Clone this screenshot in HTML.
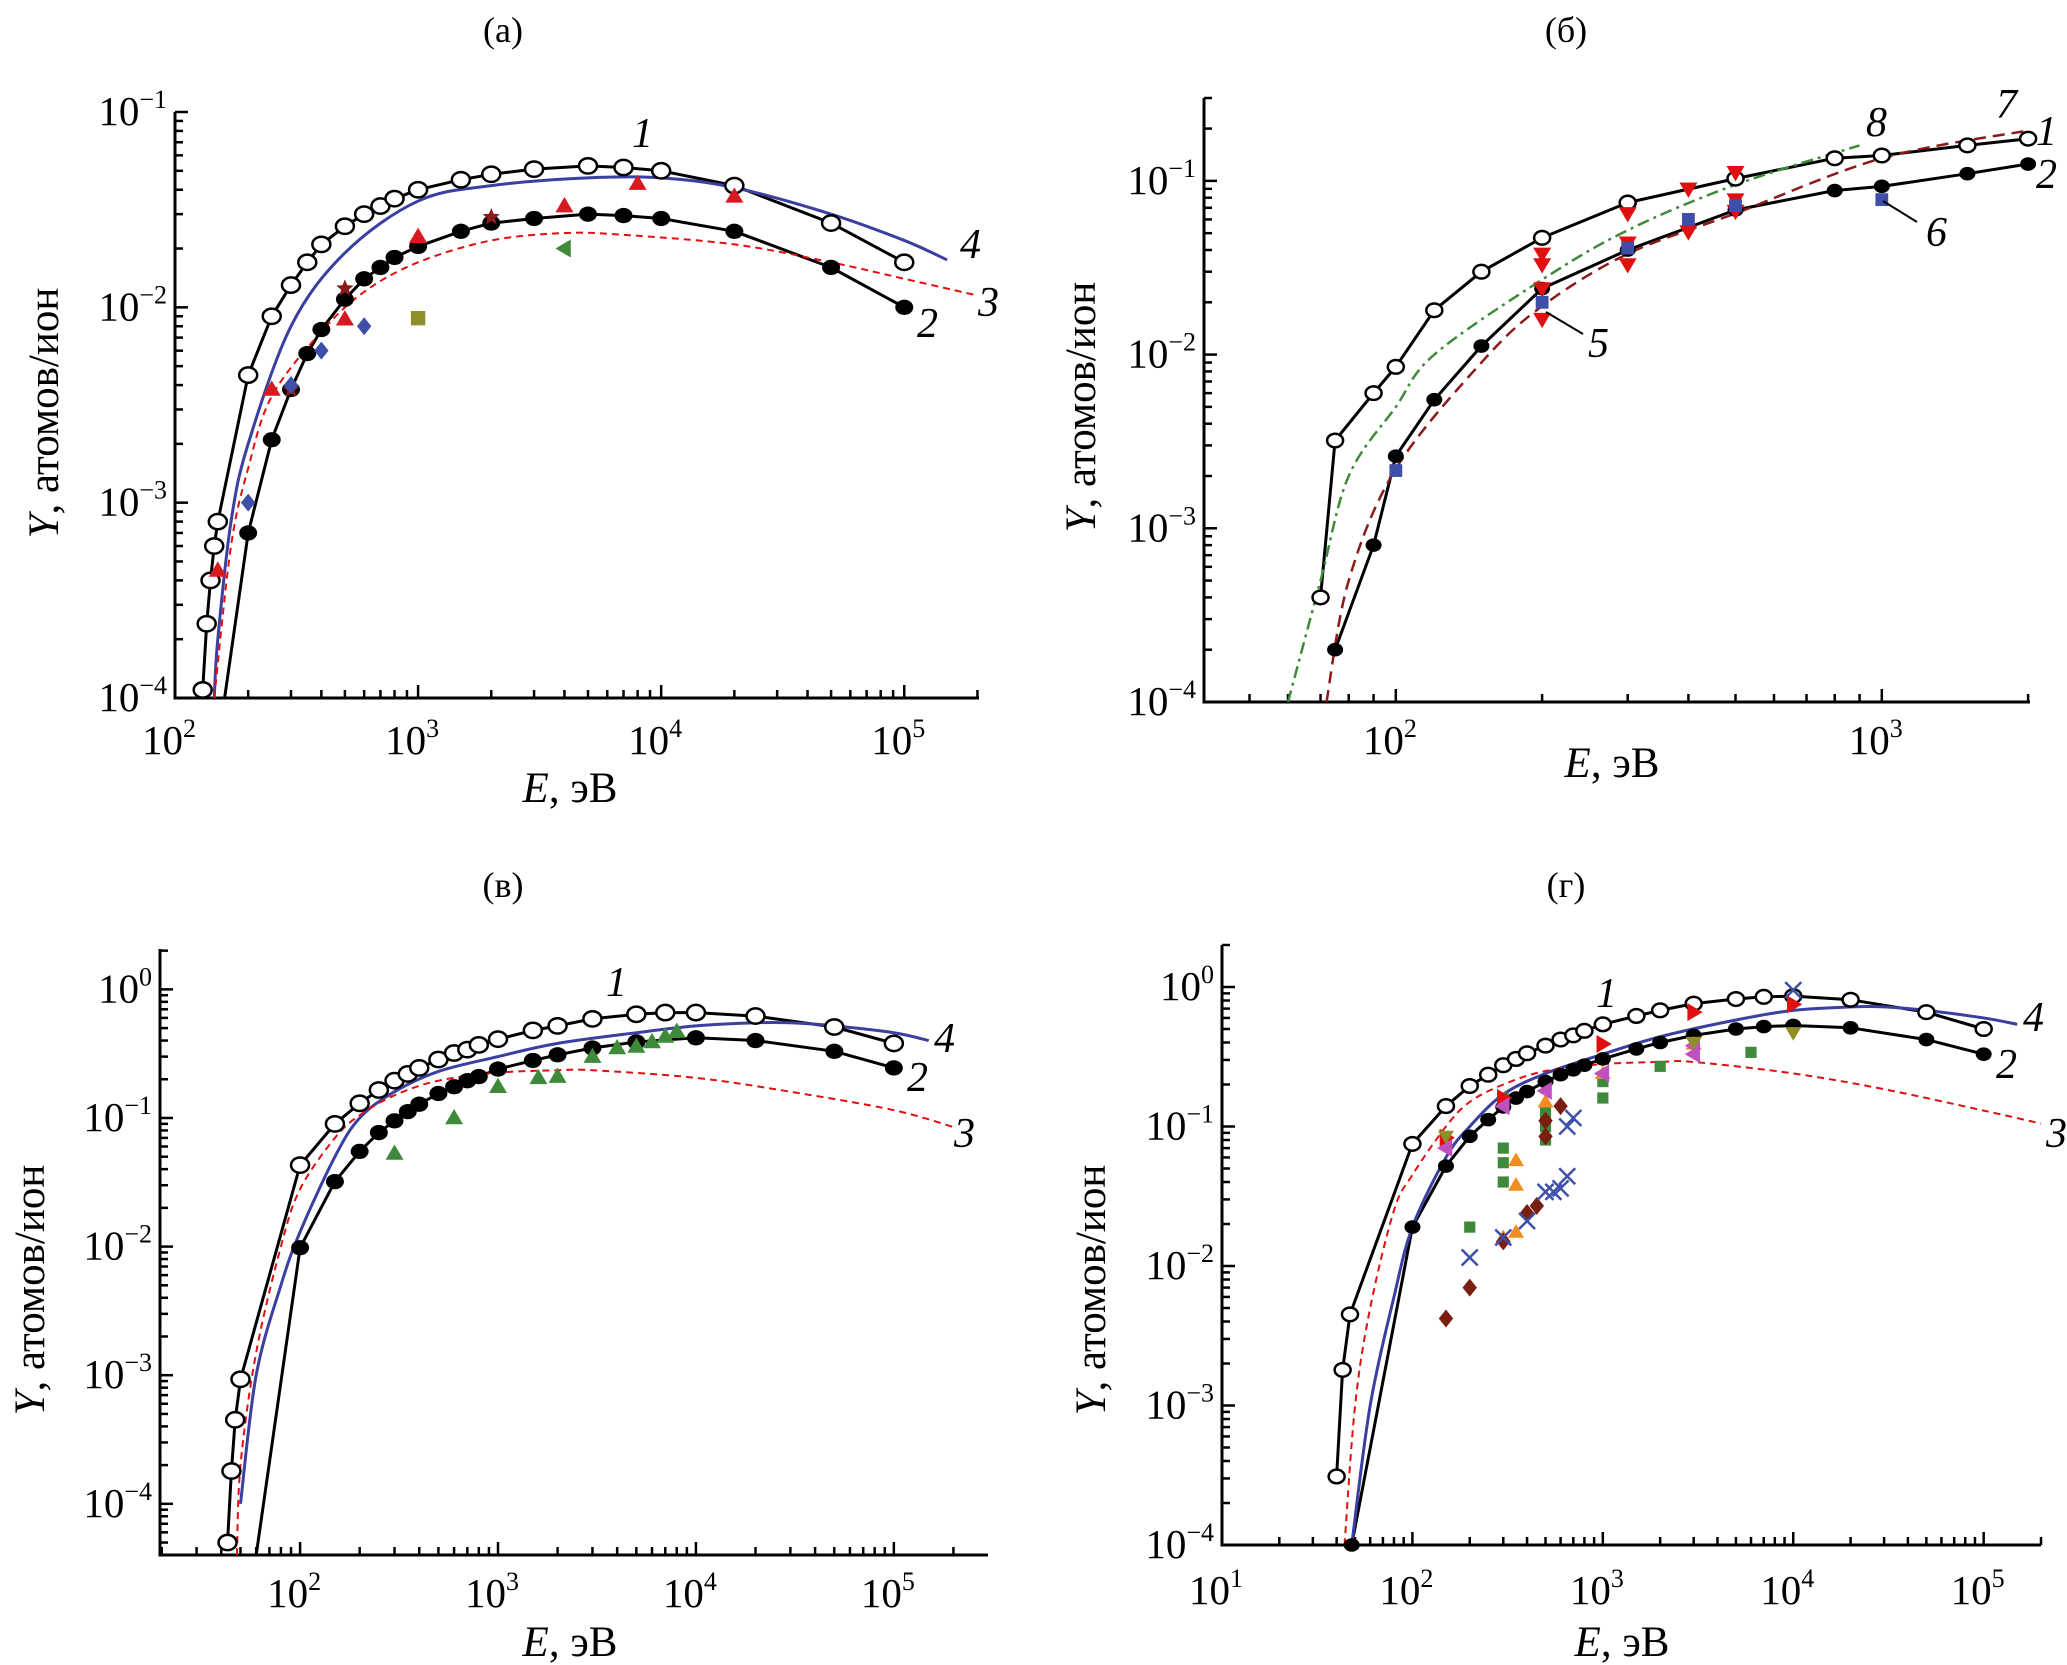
<!DOCTYPE html>
<html><head><meta charset="utf-8"><style>
html,body{margin:0;padding:0;background:#fff}
svg{display:block;font-family:"Liberation Serif","DejaVu Serif",serif}
</style></head><body>
<svg id="fig" width="2067" height="1665" viewBox="0 0 2067 1665" xmlns="http://www.w3.org/2000/svg"></svg>
<script>
// ===== Panel (a) data =====
const aE1=[130,135,140,145,150,200,250,300,350,400,500,600,700,800,1000,1500,2000,3000,5000,7000,10000,20000,50000,100000];
const aY1=[1.1e-4,2.4e-4,4e-4,6e-4,8e-4,4.5e-3,9e-3,1.3e-2,1.7e-2,2.1e-2,2.6e-2,3.0e-2,3.3e-2,3.6e-2,4.0e-2,4.5e-2,4.8e-2,5.1e-2,5.3e-2,5.2e-2,5.0e-2,4.2e-2,2.7e-2,1.7e-2];
const aE2=[160,200,250,300,350,400,500,600,700,800,1000,1500,2000,3000,5000,7000,10000,20000,50000,100000];
const aY2=[1e-4,7e-4,2.1e-3,3.8e-3,5.8e-3,7.7e-3,1.1e-2,1.4e-2,1.6e-2,1.8e-2,2.05e-2,2.45e-2,2.7e-2,2.85e-2,3.0e-2,2.95e-2,2.85e-2,2.45e-2,1.6e-2,1.0e-2];
const aE4=[145,150,170,200,300,500,1000,2000,5000,10000,20000,50000,100000,150000];
const aY4=[1e-4,2e-4,8e-4,2e-3,8e-3,1.9e-2,3.5e-2,4.2e-2,4.6e-2,4.6e-2,4.1e-2,3.0e-2,2.2e-2,1.75e-2];
const aE3=[145,170,200,250,400,600,1000,2000,4000,7000,20000,50000,100000,200000];
const aY3=[1e-4,6e-4,1.5e-3,3.5e-3,7.5e-3,1.2e-2,1.7e-2,2.2e-2,2.4e-2,2.35e-2,2.1e-2,1.7e-2,1.4e-2,1.15e-2];
const aTriE=[150,250,500,1000,4000,8000,20000], aTriY=[4.5e-4,3.8e-3,8.7e-3,2.3e-2,3.3e-2,4.3e-2,3.7e-2];
const aStarE=[500,2000,300], aStarY=[1.25e-2,2.9e-2,3.8e-3];
const aDiaE=[200,300,400,600], aDiaY=[1e-3,4e-3,6e-3,8e-3];
const aSqE=[1000], aSqY=[8.8e-3];
const aLtE=[4000], aLtY=[2e-2];
// ===== Panel (б) data =====
const bE1=[70,75,90,100,120,150,200,300,500,800,1000,1500,2000];
const bY1=[4e-4,3.2e-3,6e-3,8.5e-3,1.8e-2,3.0e-2,4.7e-2,7.5e-2,1.03e-1,1.35e-1,1.4e-1,1.6e-1,1.75e-1];
const bE2=[75,90,100,120,150,200,300,500,800,1000,1500,2000];
const bY2=[2e-4,8e-4,2.6e-3,5.5e-3,1.12e-2,2.4e-2,4e-2,6.8e-2,8.8e-2,9.3e-2,1.1e-1,1.25e-1];
const bE7=[72,80,100,150,200,300,500,1000,2000];
const bY7=[1e-4,5e-4,2.2e-3,9e-3,1.9e-2,3.8e-2,6.5e-2,1.35e-1,1.95e-1];
const bE8=[60,70,80,100,120,200,300,500,900];
const bY8=[1e-4,5e-4,2e-3,5e-3,1e-2,2.7e-2,5.2e-2,9.5e-2,1.6e-1];
const bDnE=[200,200,200,200,300,300,300,400,400,500,500,500];
const bDnY=[3.8e-2,3.3e-2,2.4e-2,1.6e-2,6.5e-2,4.4e-2,3.3e-2,9e-2,5.1e-2,1.12e-1,7.8e-2,6.7e-2];
const bSqE=[100,200,300,400,500,1000], bSqY=[2.15e-3,2e-2,4.1e-2,6e-2,7.2e-2,7.8e-2];
// ===== Panel (в) data =====
const cE1=[43,45,47,50,100,150,200,250,300,350,400,500,600,700,800,1000,1500,2000,3000,5000,7000,10000,20000,50000,100000];
const cY1=[5e-5,1.8e-4,4.5e-4,9.3e-4,4.3e-2,9e-2,1.3e-1,1.65e-1,1.95e-1,2.2e-1,2.45e-1,2.85e-1,3.2e-1,3.4e-1,3.7e-1,4.1e-1,4.8e-1,5.2e-1,5.9e-1,6.4e-1,6.6e-1,6.6e-1,6.2e-1,5.1e-1,3.8e-1];
const cE2=[60,100,150,200,250,300,350,400,500,600,700,800,1000,1500,2000,3000,5000,10000,20000,50000,100000];
const cY2=[4e-5,9.8e-3,3.2e-2,5.5e-2,7.7e-2,9.5e-2,1.12e-1,1.28e-1,1.55e-1,1.75e-1,1.95e-1,2.1e-1,2.4e-1,2.8e-1,3.1e-1,3.5e-1,3.9e-1,4.2e-1,4e-1,3.3e-1,2.45e-1];
const cE4=[50,60,80,100,150,200,300,500,1000,2000,5000,10000,20000,30000,50000,100000,150000];
const cY4=[1e-4,1e-3,5e-3,1.3e-2,5e-2,1e-1,1.6e-1,2.3e-1,3e-1,3.8e-1,4.6e-1,5.2e-1,5.5e-1,5.5e-1,5.2e-1,4.6e-1,4e-1];
const cE3=[48,50,60,80,100,150,200,300,500,1000,2000,3000,10000,30000,100000,200000];
const cY3=[4e-5,2e-4,1.5e-3,1e-2,2.8e-2,7e-2,1.05e-1,1.5e-1,1.95e-1,2.25e-1,2.35e-1,2.35e-1,2.05e-1,1.6e-1,1.15e-1,8.5e-2];
const cTriE=[300,600,1000,1600,2000,3000,4000,5000,6000,7000,8000];
const cTriY=[5.3e-2,1e-1,1.75e-1,2.05e-1,2.1e-1,3e-1,3.5e-1,3.6e-1,3.9e-1,4.3e-1,4.7e-1];
// ===== Panel (г) data =====
const dE1=[40,43,47,100,150,200,250,300,350,400,500,600,700,800,1000,1500,2000,3000,5000,7000,10000,20000,50000,100000];
const dY1=[3.1e-4,1.8e-3,4.5e-3,7.5e-2,1.4e-1,1.95e-1,2.35e-1,2.75e-1,3.05e-1,3.35e-1,3.8e-1,4.2e-1,4.5e-1,4.85e-1,5.4e-1,6.2e-1,6.8e-1,7.6e-1,8.2e-1,8.5e-1,8.6e-1,8.1e-1,6.6e-1,5e-1];
const dE2=[48,100,150,200,250,300,350,400,500,600,700,800,1000,1500,2000,3000,5000,7000,10000,20000,50000,100000];
const dY2=[1e-4,1.9e-2,5.2e-2,8.5e-2,1.12e-1,1.38e-1,1.6e-1,1.78e-1,2.1e-1,2.35e-1,2.55e-1,2.75e-1,3.05e-1,3.6e-1,4e-1,4.5e-1,5e-1,5.2e-1,5.3e-1,5.1e-1,4.2e-1,3.3e-1];
const dE4=[48,60,80,100,150,200,300,500,1000,2000,5000,10000,20000,30000,50000,100000,150000];
const dY4=[1e-4,1e-3,6e-3,1.9e-2,6e-2,1e-1,1.7e-1,2.4e-1,3.3e-1,4.4e-1,5.8e-1,6.8e-1,7.2e-1,7.2e-1,6.8e-1,6e-1,5.4e-1];
const dE3=[44,50,60,80,100,150,200,300,500,1000,2000,3000,10000,30000,100000,200000];
const dY3=[1e-4,1e-3,5e-3,2.5e-2,4.5e-2,1e-1,1.5e-1,2e-1,2.5e-1,2.8e-1,2.9e-1,2.9e-1,2.4e-1,1.85e-1,1.3e-1,1.05e-1];
const dRtE=[150,300,1000,3000,10000], dRtY=[8.3e-2,1.6e-1,3.9e-1,6.6e-1,7.5e-1];
const dLtE=[150,300,500,1000,3000,3000], dLtY=[7e-2,1.4e-1,1.8e-1,2.4e-1,3.3e-1,3.8e-1];
const dSqE=[200,300,300,300,300,500,500,500,1000,1000,2000,6000];
const dSqY=[1.9e-2,7e-2,5.5e-2,4e-2,1.6e-1,1.25e-1,1e-1,8e-2,2.1e-1,1.6e-1,2.7e-1,3.4e-1];
const dOrE=[300,350,350,350,500,1000,3000], dOrY=[1.6e-2,5.7e-2,3.8e-2,1.75e-2,1.5e-1,2.4e-1,3.9e-1];
const dDiaE=[150,200,300,400,450,500,500,600], dDiaY=[4.2e-3,7e-3,1.5e-2,2.4e-2,2.7e-2,8.5e-2,1.1e-1,1.4e-1];
const dXE=[200,300,400,500,550,600,650,650,700,10000], dXY=[1.15e-2,1.6e-2,2.1e-2,3.4e-2,3.4e-2,3.6e-2,4.4e-2,1e-1,1.15e-1,9.5e-1];
const dOlE=[3000,10000,150], dOlY=[4e-1,4.7e-1,8.5e-2];

const NS='http://www.w3.org/2000/svg';
const svg=document.getElementById('fig');
function mk(tag,attrs,parent){const e=document.createElementNS(NS,tag);for(const k in attrs)e.setAttribute(k,attrs[k]);(parent||svg).appendChild(e);return e;}
function L(v){return Math.log10(v);}

function makePanel(p){
  const g=mk('g',{});
  
  
  p.sx=v=>p.x0+(L(v)-L(p.xmin))/(L(p.xmax)-L(p.xmin))*(p.x1-p.x0);
  p.sy=v=>p.y1-(L(v)-L(p.ymin))/(L(p.ymax)-L(p.ymin))*(p.y1-p.y0);
  const clip=mk('clipPath',{id:'clip-'+p.name},g);
  mk('rect',{x:p.x0,y:p.y0-20,width:p.x1-p.x0+30,height:p.y1-p.y0+20},clip);
  p.g=g;
  const ya=mk('line',{x1:p.x0,y1:p.y0,x2:p.x0,y2:p.y1,stroke:'#000','stroke-width':3},g);
  
  
  const xa=mk('line',{x1:p.x0-1.5,y1:p.y1,x2:p.x1,y2:p.y1,stroke:'#000','stroke-width':3},g);
  
  
  for(let d=Math.floor(L(p.xmin));d<=Math.ceil(L(p.xmax));d++){
    for(let m=1;m<10;m++){const v=m*Math.pow(10,d);if(v<p.xmin*0.999||v>p.xmax*1.001)continue;
      const x=p.sx(v);mk('line',{x1:x,y1:p.y1,x2:x,y2:p.y1-(m===1?13:8),stroke:'#000','stroke-width':2.5},g);
      if(m===1&&p.xlabs.includes(d)){const t=mk('text',{x:x-6,y:p.xly,'font-size':41,'text-anchor':'middle'},g);
        
        
        t.textContent='10';const s=mk('tspan',{dy:-17,'font-size':26},t);s.textContent=String(d);}}
  }
  for(let d=Math.floor(L(p.ymin));d<=Math.ceil(L(p.ymax));d++){
    for(let m=1;m<10;m++){const v=m*Math.pow(10,d);if(v<p.ymin*0.999||v>p.ymax*1.001)continue;
      const y=p.sy(v);mk('line',{x1:p.x0,y1:y,x2:p.x0+(m===1?13:8),y2:y,stroke:'#000','stroke-width':2.5},g);
      if(m===1){const t=mk('text',{x:p.x0-8,y:y+13,'font-size':41,'text-anchor':'end'},g);
        
        
        const a=mk('tspan',{},t);a.textContent='10';const s=mk('tspan',{dy:-17,'font-size':26},t);s.textContent=(d<0?'−':'')+Math.abs(d);}}
  }
  const tt=mk('text',{x:p.tx,y:p.ty,'font-size':36,'text-anchor':'middle'},g);
  
  
  tt.textContent=p.title;
  const xl=mk('text',{x:p.xlx,y:p.xlY,'font-size':43,'text-anchor':'middle'},g);
  
  
  const xi=mk('tspan',{'font-style':'italic'},xl);xi.textContent='E';const xr=mk('tspan',{},xl);xr.textContent=', эВ';
  const yl=mk('text',{x:0,y:0,'font-size':43,'text-anchor':'middle',transform:`translate(${p.ylx},${p.yly}) rotate(-90)`},g);
  
  
  const yi=mk('tspan',{'font-style':'italic'},yl);yi.textContent='Y';const yr=mk('tspan',{},yl);yr.textContent=', атомов/ион';
  return p;
}
function line(p,E,Y,name,st){
  const pts=E.map((e,i)=>p.sx(e).toFixed(1)+','+p.sy(Y[i]).toFixed(1)).join(' ');
  const el=mk('polyline',Object.assign({points:pts,fill:'none','clip-path':`url(#clip-${p.name})`,'stroke-linejoin':'round'},st),p.g);
  
  
}
function smooth(p,E,Y,name,st){
  const P=E.map((e,i)=>[p.sx(e),p.sy(Y[i])]);
  let d='M'+P[0][0]+','+P[0][1];
  for(let i=0;i<P.length-1;i++){const p0=P[i-1]||P[i],p1=P[i],p2=P[i+1],p3=P[i+2]||P[i+1];
    d+=` C${p1[0]+(p2[0]-p0[0])/6},${p1[1]+(p2[1]-p0[1])/6} ${p2[0]-(p3[0]-p1[0])/6},${p2[1]-(p3[1]-p1[1])/6} ${p2[0]},${p2[1]}`;}
  const el=mk('path',Object.assign({d:d,fill:'none','clip-path':`url(#clip-${p.name})`},st),p.g);
  
  
}
function marks(p,E,Y,shape,color,name,r,skipFirst){
  E.forEach((e,i)=>{
    if(skipFirst&&i===0)return;
    const x=p.sx(e),y=p.sy(Y[i]);let el;r=r||9;
    if(shape==='oc')el=mk('ellipse',{cx:x,cy:y,rx:r,ry:r*0.85,fill:'#fff',stroke:'#000','stroke-width':2.5},p.g);
    else if(shape==='fc')el=mk('ellipse',{cx:x,cy:y,rx:r,ry:r*0.85,fill:'#000'},p.g);
    else if(shape==='tu')el=mk('polygon',{points:`${x},${y-r} ${x-r},${y+r*0.7} ${x+r},${y+r*0.7}`,fill:color},p.g);
    else if(shape==='td')el=mk('polygon',{points:`${x},${y+r} ${x-r},${y-r*0.7} ${x+r},${y-r*0.7}`,fill:color},p.g);
    else if(shape==='tl')el=mk('polygon',{points:`${x-r},${y} ${x+r*0.7},${y-r} ${x+r*0.7},${y+r}`,fill:color},p.g);
    else if(shape==='tr')el=mk('polygon',{points:`${x+r},${y} ${x-r*0.7},${y-r} ${x-r*0.7},${y+r}`,fill:color},p.g);
    else if(shape==='sq')el=mk('rect',{x:x-r*0.8,y:y-r*0.8,width:r*1.6,height:r*1.6,fill:color},p.g);
    else if(shape==='di')el=mk('polygon',{points:`${x},${y-r} ${x+r*0.8},${y} ${x},${y+r} ${x-r*0.8},${y}`,fill:color},p.g);
    else if(shape==='st'){let pts=[];for(let k=0;k<10;k++){const a=-Math.PI/2+k*Math.PI/5,rr=k%2?r*0.45:r;pts.push((x+rr*Math.cos(a)).toFixed(1)+','+(y+rr*Math.sin(a)).toFixed(1));}el=mk('polygon',{points:pts.join(' '),fill:color},p.g);}
    else if(shape==='x')el=mk('path',{d:`M${x-r},${y-r}L${x+r},${y+r}M${x-r},${y+r}L${x+r},${y-r}`,stroke:color,'stroke-width':2.5},p.g);
    
    
  });
}
function lab(p,x,y,t){const el=mk('text',{x:x,y:y,'font-size':42,'font-style':'italic'},p.g);
  
  
  el.textContent=t;}

const BLK={stroke:'#000','stroke-width':3};
const BLUE={stroke:'#3a3fa0','stroke-width':3};
const RED={stroke:'#e01010','stroke-width':2,'stroke-dasharray':'7,5'};

const A=makePanel({name:'panel-a',title:'(а)',x0:175,x1:979,y0:112,y1:698,xmin:100,xmax:2.03e5,ymin:1e-4,ymax:1e-1,xlabs:[2,3,4,5],xly:754,tx:503,ty:42,xlx:570,xlY:802,ylx:58,yly:413});
line(A,aE1,aY1,'curve-1',BLK);line(A,aE2,aY2,'curve-2',BLK);
smooth(A,aE4,aY4,'curve-4',BLUE);smooth(A,aE3,aY3,'curve-3',RED);
marks(A,aE1,aY1,'oc','#000','curve-1-point');marks(A,aE2,aY2,'fc','#000','curve-2-point',9,true);
marks(A,aTriE,aTriY,'tu','#d71920','exp-triangle');marks(A,aStarE,aStarY,'st','#8b1a1a','exp-star',9);
marks(A,aDiaE,aDiaY,'di','#3d4fa8','exp-diamond');marks(A,aSqE,aSqY,'sq','#8f8f2a','exp-square');marks(A,aLtE,aLtY,'tl','#3f8a3a','exp-left-triangle');
lab(A,632,147,'1');lab(A,917,337,'2');lab(A,978,316,'3');lab(A,960,258,'4');

const B=makePanel({name:'panel-b',title:'(б)',x0:1204,x1:2030,y0:98,y1:702,xmin:40.3,xmax:2018,ymin:1e-4,ymax:0.3,xlabs:[2,3],xly:754,tx:1566,ty:42,xlx:1612,xlY:777,ylx:1095,yly:407});
line(B,bE1,bY1,'curve-1',BLK);line(B,bE2,bY2,'curve-2',BLK);
smooth(B,bE7,bY7,'curve-7',{stroke:'#8b1a1a','stroke-width':2.5,'stroke-dasharray':'12,7'});
smooth(B,bE8,bY8,'curve-8',{stroke:'#3f8a3a','stroke-width':2.5,'stroke-dasharray':'12,5,3,5'});
marks(B,bE1,bY1,'oc','#000','curve-1-point',8);marks(B,bE2,bY2,'fc','#000','curve-2-point',8);
marks(B,bDnE,bDnY,'td','#e01010','exp-down-triangle',9);marks(B,bSqE,bSqY,'sq','#3d4fa8','exp-square',8);
lab(B,2036,145,'1');lab(B,2036,188,'2');lab(B,1996,118,'7');lab(B,1866,136,'8');lab(B,1588,357,'5');lab(B,1926,246,'6');
mk('line',{x1:1546,y1:312,x2:1583,y2:334,stroke:'#000','stroke-width':2},B.g);
mk('line',{x1:1883,y1:201,x2:1917,y2:222,stroke:'#000','stroke-width':2},B.g);

const C=makePanel({name:'panel-c',title:'(в)',x0:160,x1:988,y0:949,y1:1555,xmin:19.6,xmax:2.99e5,ymin:4e-5,ymax:2.06,xlabs:[2,3,4,5],xly:1607,tx:503,ty:897,xlx:570,xlY:1656,ylx:44,yly:1290});
line(C,cE1,cY1,'curve-1',BLK);line(C,cE2,cY2,'curve-2',BLK);
smooth(C,cE4,cY4,'curve-4',BLUE);smooth(C,cE3,cY3,'curve-3',RED);
marks(C,cE1,cY1,'oc','#000','curve-1-point');marks(C,cE2,cY2,'fc','#000','curve-2-point',9,true);
marks(C,cTriE,cTriY,'tu','#3f8a3a','exp-triangle',9);
lab(C,606,996,'1');lab(C,934,1052,'4');lab(C,907,1091,'2');lab(C,954,1147,'3');

const D=makePanel({name:'panel-d',title:'(г)',x0:1222,x1:2041,y0:945,y1:1545,xmin:10,xmax:2.0e5,ymin:1e-4,ymax:2,xlabs:[1,2,3,4,5],xly:1604,tx:1566,ty:897,xlx:1622,xlY:1656,ylx:1105,yly:1290});
line(D,dE1,dY1,'curve-1',BLK);line(D,dE2,dY2,'curve-2',BLK);
smooth(D,dE4,dY4,'curve-4',BLUE);smooth(D,dE3,dY3,'curve-3',RED);
marks(D,dE1,dY1,'oc','#000','curve-1-point',8);marks(D,dE2,dY2,'fc','#000','curve-2-point',8);
marks(D,dSqE,dSqY,'sq','#3f8a3a','exp-square',7);marks(D,dOrE,dOrY,'tu','#f08c20','exp-orange-triangle',8);
marks(D,dDiaE,dDiaY,'di','#7a1e12','exp-diamond',9);marks(D,dXE,dXY,'x','#3d4fa8','exp-cross',8);
marks(D,dRtE,dRtY,'tr','#e01010','exp-right-triangle',9);marks(D,dLtE,dLtY,'tl','#c050c0','exp-left-triangle',9);
marks(D,dOlE,dOlY,'td','#8f8f2a','exp-down-triangle',8);
lab(D,1596,1007,'1');lab(D,2023,1031,'4');lab(D,1996,1078,'2');lab(D,2046,1147,'3');
</script>
</body></html>
